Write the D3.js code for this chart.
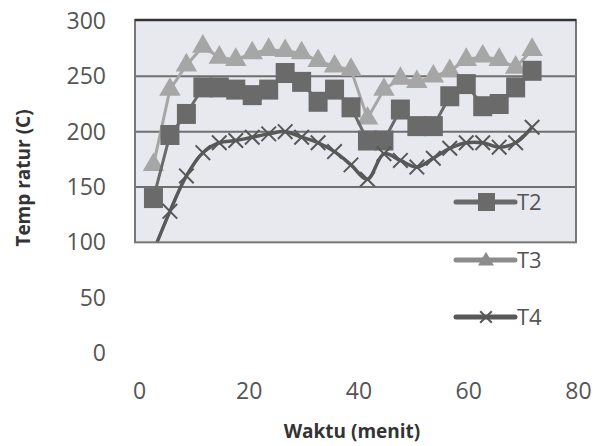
<!DOCTYPE html>
<html><head><meta charset="utf-8">
<script src="https://cdn.jsdelivr.net/npm/d3@7"></script>
<style>body{margin:0;background:#fff}svg{display:block}</style>
</head><body><svg id="c" width="593" height="446"></svg>
<script>
const minutes = [3,6,9,12,15,18,21,24,27,30,33,36,39,42,45,48,51,54,57,60,63,66,69,72];
const T2 = [140,197,216,240,240,238,233,238,253,245,227,238,222,192,192,220,205,205,232,243,223,225,240,255];
const T3 = [170,238,260,277,267,265,271,274,273,271,264,259,256,212,238,248,245,250,255,265,268,265,258,274];
const T4 = [92,128,160,181,190,192,195,198,200,195,190,182,170,157,180,174,168,176,185,190,190,186,190,204];
const yTicks = [0,50,100,150,200,250,300];
const xTicks = [0,20,40,60,80];
const gridVals = [150,200,250];

const svg = d3.select("#c");
const x = d3.scaleLinear().domain([0,80]).range([137,576]);
const y = d3.scaleLinear().domain([0,300]).range([353,21]);
const boxL = 135, boxR = 576, boxT = y(300)-1, boxB = y(100);

svg.append("rect").attr("x",boxL).attr("y",boxT).attr("width",boxR-boxL).attr("height",boxB-boxT)
  .attr("fill","#e7e9ef");
svg.append("defs").append("clipPath").attr("id","clip").append("rect")
  .attr("x",boxL).attr("y",boxT).attr("width",boxR-boxL).attr("height",boxB-boxT);

svg.selectAll("line.grid").data(gridVals).join("line").attr("class","grid")
  .attr("x1",boxL).attr("x2",boxR).attr("y1",d=>y(d)).attr("y2",d=>y(d))
  .attr("stroke","#6f6f6f").attr("stroke-width",2);

const yAxis = d3.axisLeft(y).tickValues(yTicks).tickSize(0).tickPadding(0);
const ya = svg.append("g").attr("transform","translate(106,0)").call(yAxis);
ya.select(".domain").remove();
ya.selectAll("text").attr("font-family","Open Sans, sans-serif").attr("font-size",23).attr("fill","#555");

const xAxis = d3.axisBottom(x).tickValues(xTicks).tickSize(0).tickPadding(0);
const xa = svg.append("g").attr("transform","translate(2,383)").call(xAxis);
xa.select(".domain").remove();
xa.selectAll("text").attr("font-family","Open Sans, sans-serif").attr("font-size",23).attr("fill","#555");

svg.append("text").attr("x",352).attr("y",438).attr("text-anchor","middle")
  .attr("font-family","Open Sans, sans-serif").attr("font-weight","bold").attr("font-size",19)
  .attr("fill","#333").text("Waktu (menit)");
svg.append("text").attr("transform","translate(30,178) rotate(-90)").attr("text-anchor","middle")
  .attr("font-family","Open Sans, sans-serif").attr("font-weight","bold").attr("font-size",19)
  .attr("fill","#333").text("Temp  ratur (C)");

const plot = svg.append("g").attr("clip-path","url(#clip)");
const c3 = "#a6a6a6", c2 = "#6a6a6a", c4 = "#585858";

const line = d3.line().x((d,i)=>x(minutes[i])).y(d=>y(d));
plot.append("path").datum(T3).attr("d",line).attr("fill","none").attr("stroke",c3).attr("stroke-width",3);
const tri = d3.symbol().type(d3.symbolTriangle).size(200);
plot.selectAll("path.t3").data(T3).join("path").attr("class","t3")
  .attr("transform",(d,i)=>`translate(${x(minutes[i])},${y(d)})`).attr("d",tri).attr("fill",c3);

plot.append("path").datum(T2).attr("d",line).attr("fill","none").attr("stroke",c2).attr("stroke-width",3);
plot.selectAll("rect.t2").data(T2).join("rect").attr("class","t2")
  .attr("x",(d,i)=>x(minutes[i])-9.5).attr("y",d=>y(d)-10).attr("width",19).attr("height",20)
  .attr("fill",c2);

const sline = d3.line().x((d,i)=>x(minutes[i])).y(d=>y(d)).curve(d3.curveCatmullRom);
plot.append("path").datum(T4).attr("d",sline).attr("fill","none").attr("stroke",c4).attr("stroke-width",3.5);
const cross = d3.symbol().type(d3.symbolX).size(140);
plot.selectAll("path.t4").data(T4).join("path").attr("class","t4")
  .attr("transform",(d,i)=>`translate(${x(minutes[i])},${y(d)})`).attr("d",cross)
  .attr("fill","none").attr("stroke",c4).attr("stroke-width",2);

svg.append("rect").attr("x",boxL).attr("y",boxT).attr("width",boxR-boxL).attr("height",boxB-boxT)
  .attr("fill","none").attr("stroke","#777").attr("stroke-width",2);
svg.append("line").attr("x1",boxL).attr("x2",boxR).attr("y1",boxT).attr("y2",boxT)
  .attr("stroke","#333").attr("stroke-width",2.5);

const legend = [{name:"T2",c:c2,y:202,m:"sq"},{name:"T3",c:"#8c8c8c",y:260,m:"tri"},{name:"T4",c:c4,y:317,m:"x"}];
const lg = svg.selectAll("g.lg").data(legend).join("g").attr("class","lg");
lg.append("line").attr("x1",456).attr("x2",515).attr("y1",d=>d.y).attr("y2",d=>d.y)
  .attr("stroke",d=>d.c).attr("stroke-width",5).attr("stroke-linecap","round");
lg.filter(d=>d.m==="sq").append("rect").attr("x",478).attr("y",d=>d.y-9).attr("width",17).attr("height",18).attr("fill",d=>d.c);
lg.filter(d=>d.m==="tri").append("path").attr("transform",d=>`translate(486,${d.y+1})`)
  .attr("d",d3.symbol().type(d3.symbolTriangle).size(110)).attr("fill",d=>d.c);
lg.filter(d=>d.m==="x").append("path").attr("transform",d=>`translate(486,${d.y})`)
  .attr("d",d3.symbol().type(d3.symbolX).size(90)).attr("fill","none").attr("stroke",d=>d.c).attr("stroke-width",2);
lg.append("text").attr("x",517).attr("y",d=>d.y).attr("dy","0.35em")
  .attr("font-family","Open Sans, sans-serif").attr("font-size",22).attr("fill","#555").text(d=>d.name);
</script></body></html>
